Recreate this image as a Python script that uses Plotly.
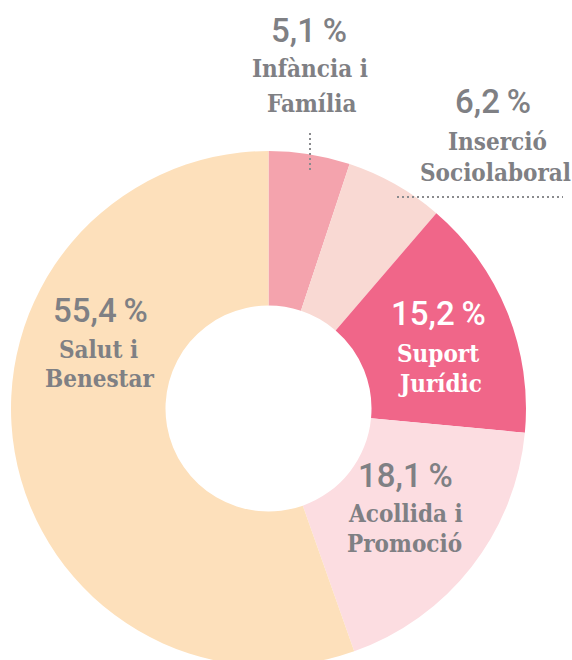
import plotly.graph_objects as go

# ---- data ----
labels = ["Infància i Família", "Inserció Sociolaboral", "Suport Jurídic",
          "Acollida i Promoció", "Salut i Benestar"]
values = [5.1, 6.2, 15.2, 18.1, 55.4]
pct_text = ["5,1\u2009%", "6,2\u2009%", "15,2\u2009%", "18,1\u2009%", "55,4\u2009%"]
label_lines = [["Infància i", "Família"], ["Inserció", "Sociolaboral"],
               ["Suport", "Jurídic"], ["Acollida i", "Promoció"], ["Salut i", "Benestar"]]
colors = ["#f4a3ad", "#f9d9d3", "#f06689", "#fcdde1", "#fde0bb"]

W, H = 572, 676
GRAY = "#7f8084"
PCT_FONT = "Roboto, DejaVu Sans Condensed, sans-serif"
LAB_FONT = "DejaVu Serif Condensed, DejaVu Serif, serif"

def px(x):
    return x / W

def py(y):
    return 1 - y / H

fig = go.Figure(go.Pie(
    labels=labels, values=values, sort=False, direction="clockwise",
    hole=0.4, textinfo="none", hoverinfo="label+percent",
    marker=dict(colors=colors, line=dict(width=0)),
    domain=dict(x=[px(11), px(526)], y=[py(666), py(151)]),
    showlegend=False,
))

# text positions (pixel centres): percentage, line1, line2
pos = [
    ((309, 30.5), (310, 68.7), (311, 103.7)),
    ((493, 101.5), (497, 141.7), (495, 172.7)),
    ((438, 313.5), (438, 353.7), (440, 383.7)),
    ((405, 475.5), (405, 513.7), (404, 543.7)),
    ((100, 310.5), (98, 349.7), (100, 378.7)),
]
text_colors = [GRAY, GRAY, "white", GRAY, GRAY]

annotations = []
for i in range(len(labels)):
    (pxx, pyy), l1, l2 = pos[i]
    annotations.append(dict(x=px(pxx), y=py(pyy), xref="paper", yref="paper",
                            text=pct_text[i], showarrow=False, xanchor="center", yanchor="middle",
                            font=dict(family=PCT_FONT, size=33, weight=500, color=text_colors[i])))
    for (lx, ly), t in zip((l1, l2), label_lines[i]):
        annotations.append(dict(x=px(lx), y=py(ly), xref="paper", yref="paper",
                                text="<b>%s</b>" % t, showarrow=False, xanchor="center", yanchor="middle",
                                font=dict(family=LAB_FONT, size=24, color=text_colors[i])))

shapes = [
    dict(type="line", xref="paper", yref="paper", x0=px(310), x1=px(310), y0=py(133), y1=py(173),
         line=dict(color="#8a8b8e", width=2, dash="2px,3px")),
    dict(type="line", xref="paper", yref="paper", x0=px(397), x1=px(563), y0=py(197), y1=py(197),
         line=dict(color="#8a8b8e", width=2, dash="2px,3px")),
]

fig.update_layout(width=W, height=H, margin=dict(l=0, r=0, t=0, b=0),
                  paper_bgcolor="white", plot_bgcolor="white",
                  annotations=annotations, shapes=shapes)

fig.write_html("out.html", config={"displayModeBar": False},
               post_script="document.body.style.margin='0';document.body.style.overflow='hidden';document.documentElement.style.overflow='hidden';")
